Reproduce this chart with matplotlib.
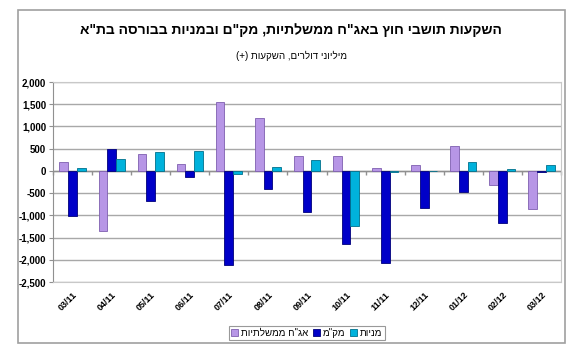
import numpy as np
import matplotlib
matplotlib.use('Agg')
import matplotlib.pyplot as plt
import matplotlib.patches as mpatches
from matplotlib.ticker import FuncFormatter

plt.rcParams['font.family'] = ['Liberation Sans', 'DejaVu Sans']

# data, millions of dollars
months = ['03/11', '04/11', '05/11', '06/11', '07/11', '08/11', '09/11',
          '10/11', '11/11', '12/11', '01/12', '02/12', '03/12']
gov_bonds = [200, -1350, 385, 150, 1560, 1185, 340, 325, 65, 125, 555, -320, -860]
makam = [-1010, 500, -680, -135, -2110, -410, -935, -1640, -2075, -830, -480, -1175, -15]
stocks = [75, 260, 420, 440, -80, 80, 240, -1250, -15, -10, 195, 50, 125]

title = 'השקעות תושבי חוץ באג"ח ממשלתיות, מק"ם ובמניות בבורסה בת"א'
subtitle = 'מיליוני דולרים, השקעות (+)'
series_names = ['אג"ח ממשלתיות', 'מק"מ', 'מניות']
colors = ['#B796E6', '#0000C8', '#00B2DC']
edges = ['#7F5FB0', '#00007A', '#00708C']


def heb(s):
    # matplotlib has no bidi, so flip to visual order
    s = s[::-1]
    return s.translate(str.maketrans('()', ')('))


fig = plt.figure(figsize=(5.79, 3.57), dpi=100)
ax = fig.add_axes([53/579, 1-282/357, (561-53)/579, (282-82)/357])

# outer chart frame
frame = mpatches.Rectangle((18/579, 1-343/357), 547/579, 333/357,
                           transform=fig.transFigure, fill=False,
                           edgecolor='#A0A0A0', lw=1.2, zorder=0)
fig.patches.append(frame)

x = np.arange(len(months))
w = 0.223
for i, vals in enumerate([gov_bonds, makam, stocks]):
    ax.bar(x + (i - 1) * w, vals, width=w, color=colors[i],
           edgecolor=edges[i], linewidth=0.6, label=heb(series_names[i]),
           zorder=3)

ax.set_ylim(-2500, 2000)
ax.set_xlim(-0.5, len(months) - 0.5)
ax.set_yticks(np.arange(-2500, 2001, 500))
ax.yaxis.set_major_formatter(FuncFormatter(lambda v, p: '{:,.0f}'.format(v)))
ax.grid(axis='y', color='#A8A8A8', lw=1, zorder=0)
ax.set_axisbelow(True)

# zero axis line with category boundary ticks
ax.axhline(0, color='#909090', lw=1, zorder=2)
bounds = np.arange(len(months) + 1) - 0.5
ax.plot(bounds, np.zeros(len(bounds)), ls='none', marker=3, ms=3,
        color='#909090', zorder=2, clip_on=False)

ax.set_xticks(x)
ax.set_xticklabels(months, rotation=45, ha='right', va='top',
                   rotation_mode='anchor', fontsize=6.5, fontweight='bold')
ax.tick_params(axis='x', length=0, pad=6)
ax.tick_params(axis='y', length=3, width=0.8, color='#909090', labelsize=7, pad=2)
for t in ax.get_yticklabels():
    t.set_fontweight('bold')

for s in ['top', 'right', 'bottom']:
    ax.spines[s].set_color('#C8C8C8')
ax.spines['left'].set_color('#909090')

fig.text(291/579, 1-30/357, heb(title), ha='center', va='center',
         fontsize=10, fontweight='bold')
fig.text(292/579, 1-56/357, heb(subtitle), ha='center', va='center',
         fontsize=7)

leg = fig.legend(loc='center', bbox_to_anchor=(307/579, 1-333/357), ncol=3,
                 fontsize=7, frameon=True, fancybox=False, edgecolor='#808080',
                 handlelength=0.7, handleheight=0.7, handletextpad=0.3,
                 columnspacing=0.5, borderpad=0.25)
leg.get_frame().set_linewidth(0.8)

fig.savefig('out.png', dpi=100)
